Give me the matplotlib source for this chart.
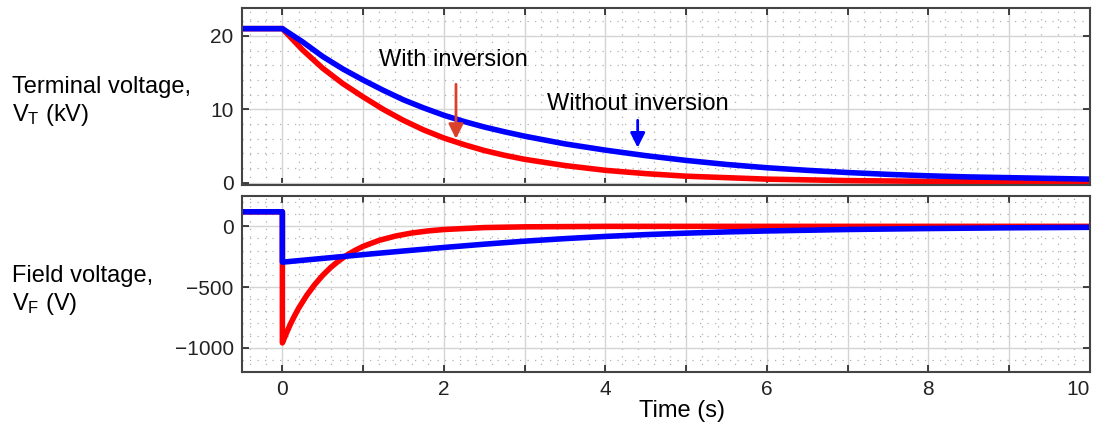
import numpy as np
import matplotlib
matplotlib.use("Agg")
from matplotlib import pyplot as plt
from matplotlib.ticker import MultipleLocator, FuncFormatter

# terminal voltage (kV)
t_vt_red = [-0.5, 0, 0.25, 0.5, 0.75, 1, 1.25, 1.5, 1.75, 2, 2.25, 2.5, 2.75, 3, 3.5, 4, 4.5, 5, 6, 7, 8, 9, 10]
vt_red = [21, 21, 18.1, 15.6, 13.5, 11.7, 10.0, 8.5, 7.2, 6.1, 5.2, 4.4, 3.75, 3.2, 2.35, 1.7, 1.25, 0.9, 0.5, 0.3, 0.2, 0.15, 0.1]
t_vt_blue = [-0.5, 0, 0.25, 0.5, 0.75, 1, 1.25, 1.5, 1.75, 2, 2.25, 2.5, 2.75, 3, 3.5, 4, 4.5, 5, 5.5, 6, 6.5, 7, 7.5, 8, 8.5, 9, 9.5, 10]
vt_blue = [21, 21, 19.2, 17.2, 15.5, 14.0, 12.6, 11.3, 10.2, 9.2, 8.35, 7.6, 6.95, 6.35, 5.3, 4.45, 3.7, 3.05, 2.5, 2.05, 1.7, 1.4, 1.15, 0.95, 0.8, 0.7, 0.6, 0.5]

# field voltage (V)
t_vf_red = [-0.5, 0, 0, 0.05, 0.1, 0.15, 0.2, 0.3, 0.4, 0.5, 0.6, 0.7, 0.8, 0.9, 1.0, 1.2, 1.4, 1.6, 1.8, 2.0, 2.5, 3, 4, 10]
vf_red = [120, 120, -960, -880, -805, -738, -676, -570, -480, -403, -338, -283, -237, -198, -165, -115, -80, -55, -38, -26, -10, -4, 0, 0]
t_vf_blue = [-0.5, 0, 0, 0.5, 1, 1.5, 2, 2.5, 3, 3.5, 4, 4.5, 5, 5.5, 6, 7, 8, 9, 10]
vf_blue = [120, 120, -295, -264, -233, -203, -174, -147, -122, -101, -83, -68, -56, -46, -38, -26, -18, -12, -8]

x_ticks_labeled = [0, 2, 4, 6, 8, 10]


def style_axes(ax, y_major, y_minor):
    ax.set_xlim(-0.5, 10)
    ax.xaxis.set_major_locator(MultipleLocator(1))
    ax.xaxis.set_minor_locator(MultipleLocator(0.2))
    ax.yaxis.set_major_locator(MultipleLocator(y_major))
    ax.yaxis.set_minor_locator(MultipleLocator(y_minor))
    ax.grid(which="major", color="#d4d4d4", linewidth=1.0, linestyle="-")
    ax.grid(which="minor", color="#b0b0b0", linewidth=0.9, linestyle=(0, (1, 5)))
    ax.set_axisbelow(True)
    ax.tick_params(which="major", direction="in", length=5, width=1.2, top=True, right=True,
                   labelsize=15, colors="#222222", pad=6)
    ax.tick_params(which="minor", length=0)
    for s in ax.spines.values():
        s.set_color("#444444")
        s.set_linewidth(1.5)


def main():
    plt.rcParams["font.family"] = ["Liberation Sans", "DejaVu Sans"]
    plt.rcParams["mathtext.fontset"] = "custom"
    plt.rcParams["mathtext.rm"] = "Liberation Sans"
    plt.rcParams["mathtext.it"] = "Liberation Sans"
    plt.rcParams["axes.unicode_minus"] = True

    fig = plt.figure(figsize=(11.02, 4.25), dpi=100)
    ax1 = fig.add_axes([0.2196, 0.5647, 0.7694, 0.4163])
    ax2 = fig.add_axes([0.2196, 0.1247, 0.7694, 0.4141])

    # top panel
    ax1.plot(t_vt_red, vt_red, color="#ff0000", linewidth=4)
    ax1.plot(t_vt_blue, vt_blue, color="#0000ff", linewidth=4)
    style_axes(ax1, 10, 2)
    ax1.set_ylim(-0.3, 23.8)
    ax1.tick_params(labelbottom=False)

    ax1.annotate("", xy=(2.15, 5.6), xytext=(2.15, 13.8),
                 arrowprops=dict(arrowstyle="-|>", color="#d9412b", lw=2, mutation_scale=22))
    ax1.text(2.12, 16.7, "With inversion", fontsize=17, ha="center", va="center")
    ax1.annotate("", xy=(4.4, 4.4), xytext=(4.4, 8.9),
                 arrowprops=dict(arrowstyle="-|>", color="#0000ff", lw=2, mutation_scale=22))
    ax1.text(4.4, 10.8, "Without inversion", fontsize=17, ha="center", va="center")

    # bottom panel
    ax2.plot(t_vf_red, vf_red, color="#ff0000", linewidth=4)
    ax2.plot(t_vf_blue, vf_blue, color="#0000ff", linewidth=4)
    style_axes(ax2, 500, 100)
    ax2.set_ylim(-1200, 250)
    ax2.xaxis.set_major_formatter(FuncFormatter(
        lambda v, p: "{:d}".format(int(round(v))) if int(round(v)) in x_ticks_labeled else ""))
    fig.canvas.draw()
    for lab in ax2.get_xticklabels():
        if lab.get_text() == "10":
            lab.set_horizontalalignment("right")

    # axis labels as free text
    fig.text(0.011, 0.760, "Terminal voltage,\nV$_{\\rm T}$ (kV)", fontsize=17,
             va="center", ha="left", linespacing=1.2)
    fig.text(0.011, 0.315, "Field voltage,\nV$_{\\rm F}$ (V)", fontsize=17,
             va="center", ha="left", linespacing=1.2)
    fig.text(0.619, 0.032, "Time (s)", fontsize=17, ha="center", va="center")

    fig.savefig("out.png", dpi=100)


if __name__ == "__main__":
    main()
